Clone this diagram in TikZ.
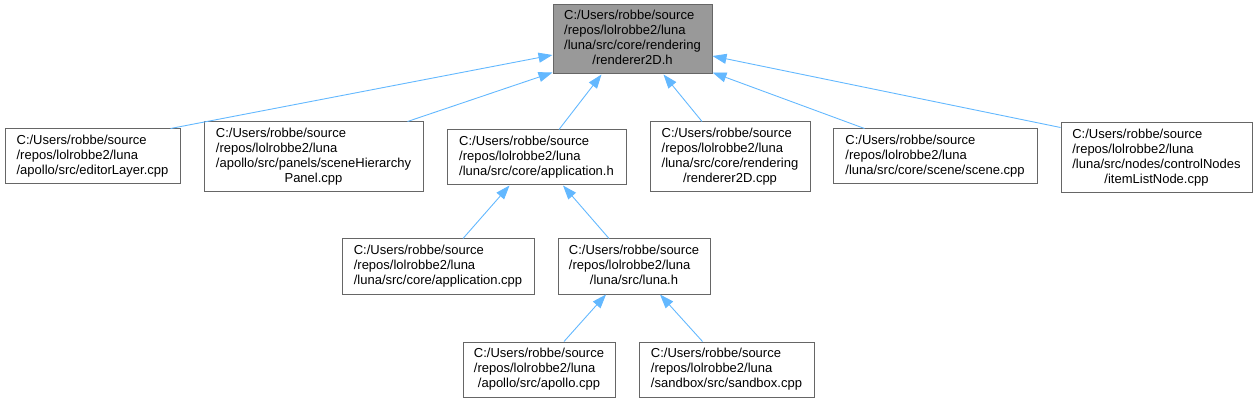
\documentclass[tikz,border=0pt]{standalone}
\usepackage{fontspec}
\setmainfont{Liberation Sans}
\usetikzlibrary{arrows.meta}
\definecolor{edgeblue}{HTML}{63B8FF}
\definecolor{boxline}{HTML}{666666}
\definecolor{boxgray}{HTML}{999999}
\tikzstyle{file}=[draw=boxline, line width=1pt, fill=white, inner sep=0pt,
    font=\fontsize{13}{15}\selectfont]
\tikzstyle{current}=[file, fill=boxgray]
\tikzstyle{dep}=[draw=edgeblue, line width=0.9pt,
    -{Triangle[length=14pt,width=10pt,fill=edgeblue]}]
\newcommand{\fpath}[2]{\begin{tabular}{@{}l@{}}#1\\\multicolumn{1}{@{}c@{}}{#2}\end{tabular}}

\begin{document}
\begin{tikzpicture}[x=1pt, y=-1pt]
  \useasboundingbox (0,0) rectangle (1257,403);
  % included header
  \node[current, minimum width=159, minimum height=69] (top) at (632.5,39.5)
    {\fpath{C:/Users/robbe/source\\/repos/lolrobbe2/luna\\/luna/src/core/rendering}{/renderer2D.h}};
  % files including it
  \node[file, minimum width=175, minimum height=55] (editor) at (92.5,156.5)
    {\fpath{C:/Users/robbe/source\\/repos/lolrobbe2/luna}{/apollo/src/editorLayer.cpp}};
  \node[file, minimum width=219, minimum height=70] (panel) at (313.5,157)
    {\fpath{C:/Users/robbe/source\\/repos/lolrobbe2/luna\\/apollo/src/panels/sceneHierarchy}{Panel.cpp}};
  \node[file, minimum width=179, minimum height=55] (apph) at (536.5,157.5)
    {\fpath{C:/Users/robbe/source\\/repos/lolrobbe2/luna}{/luna/src/core/application.h}};
  \node[file, minimum width=160, minimum height=70] (rcpp) at (730,157)
    {\fpath{C:/Users/robbe/source\\/repos/lolrobbe2/luna\\/luna/src/core/rendering}{/renderer2D.cpp}};
  \node[file, minimum width=204, minimum height=55] (scene) at (935,156.5)
    {\fpath{C:/Users/robbe/source\\/repos/lolrobbe2/luna}{/luna/src/core/scene/scene.cpp}};
  \node[file, minimum width=191, minimum height=70] (item) at (1156.5,158)
    {\fpath{C:/Users/robbe/source\\/repos/lolrobbe2/luna\\/luna/src/nodes/controlNodes}{/itemListNode.cpp}};
  % second level
  \node[file, minimum width=192, minimum height=55] (appcpp) at (438,266.5)
    {\fpath{C:/Users/robbe/source\\/repos/lolrobbe2/luna}{/luna/src/core/application.cpp}};
  \node[file, minimum width=152, minimum height=55] (lunah) at (634,266.5)
    {\fpath{C:/Users/robbe/source\\/repos/lolrobbe2/luna}{/luna/src/luna.h}};
  % third level
  \node[file, minimum width=152, minimum height=55] (apollo) at (539,369.5)
    {\fpath{C:/Users/robbe/source\\/repos/lolrobbe2/luna}{/apollo/src/apollo.cpp}};
  \node[file, minimum width=175, minimum height=55] (sandbox) at (726.5,369.5)
    {\fpath{C:/Users/robbe/source\\/repos/lolrobbe2/luna}{/sandbox/src/sandbox.cpp}};

  % include edges
  \draw[dep] ([xshift=-10pt]editor.north east) -- ([yshift=-15.5pt]top.west);
  \draw[dep] ([xshift=-16pt]panel.north east) -- ([yshift=2pt]top.south west);
  \draw[dep] ([xshift=22.5pt]apph.north) -- ([xshift=-31pt]top.south);
  \draw[dep] ([xshift=-28pt]rcpp.north) -- ([xshift=31pt]top.south);
  \draw[dep] ([xshift=32pt]scene.north west) -- ([yshift=2pt]top.south east);
  \draw[dep] ([yshift=-5pt]item.north west) -- ([yshift=-16.5pt]top.east);
  \draw[dep] ([xshift=25pt]appcpp.north) -- ([xshift=-27pt]apph.south);
  \draw[dep] ([xshift=-25pt]lunah.north) -- ([xshift=26.5pt]apph.south);
  \draw[dep] ([xshift=25pt]apollo.north) -- ([xshift=-28pt]lunah.south);
  \draw[dep] ([xshift=-24pt]sandbox.north) -- ([xshift=26pt]lunah.south);
\end{tikzpicture}
\end{document}
